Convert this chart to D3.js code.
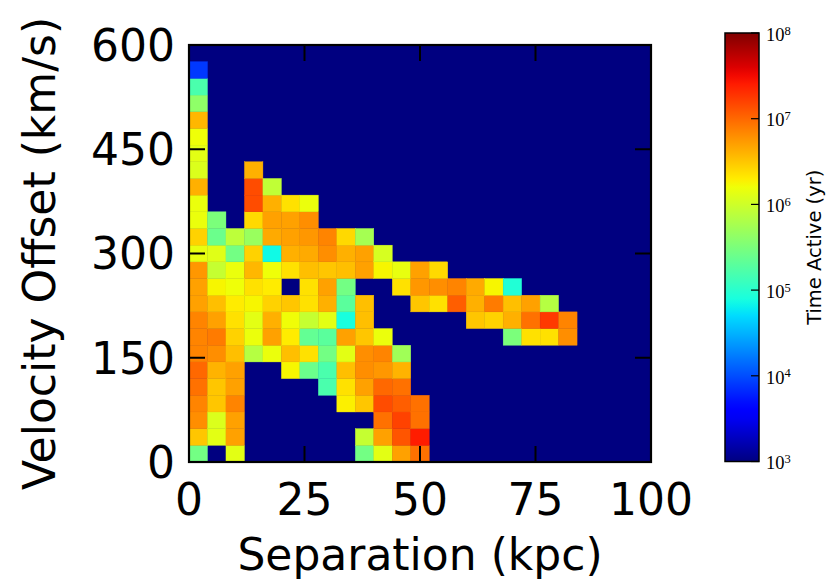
<!DOCTYPE html>
<html>
<head>
<meta charset="utf-8">
<script src="https://cdn.jsdelivr.net/npm/d3@7"></script>
<style>
  body { margin: 0; background: #fff; }
  .tick-label { font-family: "DejaVu Sans", sans-serif; font-size: 44px; fill: #000; }
  .axis-label { font-family: "DejaVu Sans", sans-serif; font-size: 44px; fill: #000; }
  .cbar-label { font-family: "DejaVu Sans", sans-serif; font-size: 19.5px; fill: #000; }
  .cbar-tick { font-family: "Liberation Serif", "DejaVu Serif", serif; font-size: 18.5px; fill: #000; }
</style>
</head>
<body>
<div id="chart"></div>
<script>
// bins (lower edges) and axis ticks
var sepBins = [0, 4, 8, 12, 16, 20, 24, 28, 32, 36, 40, 44, 48, 52, 56, 60, 64, 68, 72, 76, 80, 84, 88, 92, 96];
var velBins = [0, 24, 48, 72, 96, 120, 144, 168, 192, 216, 240, 264, 288, 312, 336, 360, 384, 408, 432, 456, 480, 504, 528, 552, 576];
var sepTicks = [0, 25, 50, 75, 100];
var velTicks = [0, 150, 300, 450, 600];
var cbarExp = [3, 4, 5, 6, 7, 8];

// log10(time active / yr), one row per velocity bin (from 0 km/s up), one entry per separation bin
var _ = null;
var logTime = [
  [5.45, _, 6.13, _, _, _, _, _, _, 5.45, 6.13, 6.7, 6.95],
  [6.5, 6.13, 6.7, _, _, _, _, _, _, 5.95, 6.7, 7.1, 7.4],
  [6.8, 6.08, 6.7, _, _, _, _, _, _, _, 6.95, 7.2, 6.95],
  [6.85, 6.5, 6.85, _, _, _, _, _, 6.28, 6.5, 7.15, 7.05, 6.95],
  [6.95, 6.5, 6.7, _, _, _, _, 5.2, 6.36, 6.7, 7.0, 6.95],
  [7.0, 6.6, 6.7, _, _, 6.25, 5.4, 5.2, 6.54, 6.8, 6.75, 6.6],
  [6.85, 6.8, 6.54, 5.85, 6.18, 6.54, 6.36, 5.45, 6.13, 6.8, 6.85, 5.72],
  [6.85, 6.9, 6.44, 6.18, 6.7, 6.3, 5.35, 5.3, 6.7, 6.5, 6.18, _, _, _, _, _, _, 5.5, 6.36, 6.36, 6.8],
  [6.85, 6.7, 6.36, 6.13, 6.62, 6.21, 5.95, 6.13, 4.9, 6.54, _, _, _, _, _, 6.5, 6.44, 6.62, 6.95, 7.25, 6.85],
  [6.7, 6.54, 6.3, 6.25, 6.44, 6.5, 6.36, 6.62, 5.3, 6.54, _, _, 6.5, 6.36, 7.05, 6.62, 6.9, 6.54, 6.7, 5.85],
  [6.7, 6.25, 6.2, 6.36, 6.3, _, 6.36, 6.7, 5.45, _, _, 6.36, 6.75, 6.8, 6.85, 6.65, 6.25, 4.95],
  [6.75, 5.95, 6.18, 6.58, 6.2, 6.36, 6.54, 6.5, 6.54, 6.7, 6.25, 6.16, 6.7, 6.4],
  [6.16, 6.11, 5.45, 6.44, 4.85, 6.62, 6.65, 6.8, 6.62, 6.7, 6.05],
  [6.44, 5.4, 5.9, 5.68, 6.65, 6.7, 6.75, 6.85, 6.4, 5.75],
  [6.18, 5.5, _, 6.4, 6.7, 6.7, 6.8],
  [6.18, _, _, 7.15, 6.62, 6.36, 6.18],
  [6.62, _, _, 7.15, 5.92],
  [6.08, _, _, 6.62],
  [6.13],
  [6.2],
  [6.58],
  [5.62],
  [5.2],
  [3.9],
  []
];

var sepStep = 4, velStep = 24;
var W = 840, H = 582;
var plot = {left: 189, right: 651, top: 45, bottom: 462};
var cbar = {left: 725, right: 759, top: 33, bottom: 461.5};

// matplotlib "jet"
var jetR = d3.scaleLinear().domain([0, 0.35, 0.66, 0.89, 1]).range([0, 0, 1, 1, 0.5]).clamp(true);
var jetG = d3.scaleLinear().domain([0, 0.125, 0.375, 0.64, 0.91, 1]).range([0, 0, 1, 1, 0, 0]).clamp(true);
var jetB = d3.scaleLinear().domain([0, 0.11, 0.34, 0.65, 1]).range([0.5, 1, 1, 0, 0]).clamp(true);
function jet(t) {
  return d3.rgb(jetR(t) * 255, jetG(t) * 255, jetB(t) * 255).toString();
}
var norm = d3.scaleLog().domain([1e3, 1e8]).range([0, 1]).clamp(true);

var cells = [];
logTime.forEach(function(row, j) {
  row.forEach(function(v, i) {
    if (v !== null) cells.push({sep: sepBins[i], vel: velBins[j], value: Math.pow(10, v)});
  });
});

var x = d3.scaleLinear().domain([0, 100]).range([plot.left, plot.right]);
var y = d3.scaleLinear().domain([0, 600]).range([plot.bottom, plot.top]);
var yc = d3.scaleLog().domain([1e3, 1e8]).range([cbar.bottom, cbar.top]);

var svg = d3.select("#chart").append("svg")
            .attr("width", W)
            .attr("height", H);

svg.append("rect").attr("width", W).attr("height", H).attr("fill", "#fff");

// background = lowest colour
svg.append("rect")
   .attr("x", plot.left).attr("y", plot.top)
   .attr("width", plot.right - plot.left)
   .attr("height", plot.bottom - plot.top)
   .attr("fill", jet(0));

svg.append("g").selectAll("rect")
   .data(cells).enter().append("rect")
   .attr("x", (d) => x(d.sep))
   .attr("y", (d) => y(d.vel + velStep))
   .attr("width", (d) => x(d.sep + sepStep) - x(d.sep))
   .attr("height", (d) => y(d.vel) - y(d.vel + velStep))
   .attr("fill", (d) => jet(norm(d.value)))
   .attr("stroke", (d) => jet(norm(d.value)))
   .attr("stroke-width", 0.4);

// ticks, inward on all four sides
var tickLen = 16;
var tg = svg.append("g").attr("stroke", "#000").attr("stroke-width", 2);
sepTicks.forEach(function(t) {
  tg.append("line").attr("x1", x(t)).attr("x2", x(t)).attr("y1", plot.bottom).attr("y2", plot.bottom - tickLen);
  tg.append("line").attr("x1", x(t)).attr("x2", x(t)).attr("y1", plot.top).attr("y2", plot.top + tickLen);
});
velTicks.forEach(function(t) {
  tg.append("line").attr("y1", y(t)).attr("y2", y(t)).attr("x1", plot.left).attr("x2", plot.left + tickLen);
  tg.append("line").attr("y1", y(t)).attr("y2", y(t)).attr("x1", plot.right).attr("x2", plot.right - tickLen);
});

svg.append("rect")
   .attr("x", plot.left).attr("y", plot.top)
   .attr("width", plot.right - plot.left)
   .attr("height", plot.bottom - plot.top)
   .attr("fill", "none")
   .attr("stroke", "#000")
   .attr("stroke-width", 2.2);

svg.append("g").selectAll("text")
   .data(sepTicks).enter().append("text")
   .attr("class", "tick-label")
   .attr("text-anchor", "middle")
   .attr("x", (d) => x(d))
   .attr("y", 515)
   .text((d) => d);

svg.append("g").selectAll("text")
   .data(velTicks).enter().append("text")
   .attr("class", "tick-label")
   .attr("text-anchor", "end")
   .attr("x", 175)
   .attr("y", (d) => y(d))
   .attr("dy", "0.36em")
   .text((d) => d);

svg.append("text")
   .attr("class", "axis-label")
   .attr("text-anchor", "middle")
   .attr("x", (plot.left + plot.right) / 2)
   .attr("y", 570)
   .text("Separation (kpc)");

svg.append("text")
   .attr("class", "axis-label")
   .attr("text-anchor", "middle")
   .attr("transform", "translate(55," + (plot.top + plot.bottom) / 2 + ") rotate(-90)")
   .text("Velocity Offset (km/s)");

// colorbar
var grad = svg.append("defs").append("linearGradient")
              .attr("id", "jetgrad")
              .attr("x1", 0).attr("y1", 1).attr("x2", 0).attr("y2", 0);
grad.selectAll("stop")
    .data(d3.range(0, 1.0001, 0.02)).enter().append("stop")
    .attr("offset", (d) => d)
    .attr("stop-color", (d) => jet(d));

svg.append("rect")
   .attr("x", cbar.left).attr("y", cbar.top)
   .attr("width", cbar.right - cbar.left)
   .attr("height", cbar.bottom - cbar.top)
   .attr("fill", "url(#jetgrad)")
   .attr("stroke", "#000")
   .attr("stroke-width", 1.5);

svg.append("g").selectAll("line")
   .data(cbarExp).enter().append("line")
   .attr("x1", cbar.right).attr("x2", cbar.right - 8)
   .attr("y1", (d) => yc(Math.pow(10, d)))
   .attr("y2", (d) => yc(Math.pow(10, d)))
   .attr("stroke", "#000")
   .attr("stroke-width", 1.2);

var cl = svg.append("g").selectAll("text")
   .data(cbarExp).enter().append("text")
   .attr("class", "cbar-tick")
   .attr("x", 766)
   .attr("y", (d) => yc(Math.pow(10, d)))
   .attr("dy", "0.42em");
cl.append("tspan").text("10");
cl.append("tspan").attr("dy", "-0.5em").attr("font-size", "12.5px").text((d) => d);

svg.append("text")
   .attr("class", "cbar-label")
   .attr("text-anchor", "middle")
   .attr("transform", "translate(821," + (cbar.top + cbar.bottom) / 2 + ") rotate(-90)")
   .text("Time Active (yr)");
</script>
</body>
</html>
